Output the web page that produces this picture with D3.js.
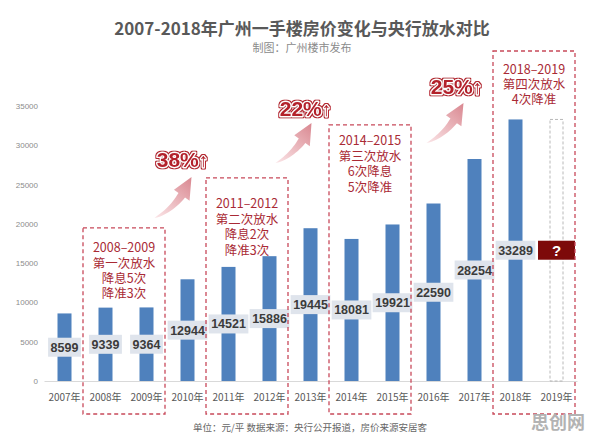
<!DOCTYPE html>
<html>
<head>
<meta charset="utf-8">
<script src="https://cdn.jsdelivr.net/npm/d3@7"></script>
<style>
  body { margin: 0; background: #fff; }
  svg { display: block; }
</style>
</head>
<body>
<svg id="chart" width="596" height="433"></svg>
<script>
// data
var years = ['2007年', '2008年', '2009年', '2010年', '2011年', '2012年', '2013年',
             '2014年', '2015年', '2016年', '2017年', '2018年', '2019年'];
var prices = [8599, 9339, 9364, 12944, 14521, 15886, 19445, 18081, 19921, 22590, 28254, 33289, null];
var pendingYear = '2019年';
var pendingHeight = 33289;   // dashed placeholder is as tall as 2018
var yTicks = [0, 5000, 10000, 15000, 20000, 25000, 30000, 35000];

var periodFrom = ['2008年', '2011年', '2014年', '2018年'];
var periodTo = ['2009年', '2012年', '2015年', '2019年'];
var periodNotes = [
    ['2008–2009', '第一次放水', '降息5次', '降准3次'],
    ['2011–2012', '第二次放水', '降息2次', '降准3次'],
    ['2014–2015', '第三次放水', '6次降息', '5次降准'],
    ['2018–2019', '第四次放水', '4次降准']
];
var growthLabels = ['38%', '22%', '25%'];

var titleText = '2007-2018年广州一手楼房价变化与央行放水对比';
var subtitleText = '制图：广州楼市发布';
var footText = '单位：元/平 数据来源：央行公开报道，房价来源安居客';

(function(){
    'use strict';

    var cjk = '"Noto Sans CJK SC", "Noto Sans", sans-serif',
        num = '"Liberation Sans", Arial, sans-serif',
        red = '#a92a35',
        svg = d3.select('#chart');

    var x = d3.scaleBand().domain(years).range([44, 577]),
        y = d3.scaleLinear().domain([0, 35000]).range([381, 106]),
        barW = 14;

    function xc( d ){ return x(d) + x.bandwidth() / 2; }

    svg.append('rect').attr('width', 596).attr('height', 433).attr('fill', '#fff');

    var defs = svg.append('defs');

    // thin red rim drawn behind the white-stroked lettering
    var rim = defs.append('filter').attr('id', 'rim')
        .attr('x', '-10%').attr('y', '-30%').attr('width', '120%').attr('height', '160%');
    rim.append('feMorphology').attr('in', 'SourceAlpha').attr('operator', 'dilate').attr('radius', 1.1).attr('result', 'outer');
    rim.append('feFlood').attr('flood-color', '#b3202c').attr('result', 'redc');
    rim.append('feComposite').attr('in', 'redc').attr('in2', 'outer').attr('operator', 'in').attr('result', 'outerRed');
    var merge = rim.append('feMerge');
    merge.append('feMergeNode').attr('in', 'outerRed');
    merge.append('feMergeNode').attr('in', 'SourceGraphic');

    // titles
    svg.append('text')
        .attr('x', 302).attr('y', 35)
        .attr('text-anchor', 'middle')
        .style('font-family', cjk).style('font-weight', 'bold')
        .style('font-size', '17px').style('fill', '#595959')
        .text(titleText);
    svg.append('text')
        .attr('x', 302).attr('y', 52)
        .attr('text-anchor', 'middle')
        .style('font-family', cjk).style('font-size', '11px').style('fill', '#8a8a8a')
        .text(subtitleText);

    // axes
    var yAxis = svg.append('g')
        .attr('transform', 'translate(44,0)')
        .call(d3.axisLeft(y).tickValues(yTicks).tickFormat(d3.format('d')).tickSize(0).tickPadding(6));
    yAxis.select('.domain').remove();
    yAxis.selectAll('text')
        .style('font-family', num).style('font-size', '8px').style('fill', '#8c8c8c');

    var xAxis = svg.append('g')
        .attr('transform', 'translate(0,' + y(0) + ')')
        .call(d3.axisBottom(x).tickSize(0).tickPadding(13));
    xAxis.select('.domain').attr('stroke', '#d9d9d9');
    xAxis.selectAll('text')
        .style('font-family', cjk).style('font-size', '10px').style('fill', '#595959');

    // bars
    var rows = years.map(function( d, i ){ return { year: d, value: prices[i] }; }),
        known = rows.filter(function( r ){ return r.value !== null; });

    svg.append('g').selectAll('rect')
        .data(known)
        .join('rect')
        .attr('x', function( r ){ return xc(r.year) - barW / 2; })
        .attr('y', function( r ){ return y(r.value); })
        .attr('width', barW)
        .attr('height', function( r ){ return y(0) - y(r.value); })
        .attr('fill', '#4f81bd');

    // 2019 placeholder
    svg.append('rect')
        .attr('x', xc(pendingYear) - barW / 2 + 0.5)
        .attr('y', y(pendingHeight))
        .attr('width', barW - 1)
        .attr('height', y(0) - y(pendingHeight))
        .attr('fill', 'none')
        .attr('stroke', '#a6a6a6')
        .attr('stroke-width', 0.8)
        .attr('stroke-dasharray', '3,2');

    // value labels, sitting at half the bar height
    var lab = svg.append('g').selectAll('g')
        .data(known)
        .join('g')
        .attr('transform', function( r ){ return 'translate(' + xc(r.year) + ',' + y(r.value / 2) + ')'; });
    lab.append('rect').attr('fill', '#dfe4ec');
    lab.append('text')
        .attr('text-anchor', 'middle')
        .attr('dy', '0.36em')
        .style('font-family', num).style('font-weight', 'bold')
        .style('font-size', '12.5px').style('fill', '#3b3b3b')
        .text(function( r ){ return r.value; })
        .each(function(){
            var w = this.getComputedTextLength() + 5;
            d3.select(this.previousSibling)
                .attr('x', -w / 2).attr('y', -9.5)
                .attr('width', w).attr('height', 19);
        });

    var q = svg.append('g')
        .attr('transform', 'translate(' + xc(pendingYear) + ',' + y(pendingHeight / 2) + ')');
    q.append('rect')
        .attr('x', -18.5).attr('y', -9.5).attr('width', 37).attr('height', 19)
        .attr('fill', '#7d0a0a');
    q.append('text')
        .attr('text-anchor', 'middle').attr('dy', '0.36em')
        .style('font-family', num).style('font-weight', 'bold')
        .style('font-size', '15px').style('fill', '#fff')
        .text('?');

    // dashed period boxes
    var boxTop = [19500, 25850, 32600, 42000],
        firstLine = [20, 26, 16, 18],
        boxBottom = y(0) + 33;

    periodFrom.forEach(function( from, i ){
        var x0 = x(from) - 2,
            x1 = x(periodTo[i]) + x.bandwidth() - 2,
            top = y(boxTop[i]);

        svg.append('rect')
            .attr('x', x0).attr('y', top)
            .attr('width', x1 - x0).attr('height', boxBottom - top)
            .attr('fill', 'none')
            .attr('stroke', '#c8495a')
            .attr('stroke-width', 1.3)
            .attr('stroke-dasharray', '4,3');

        svg.append('text')
            .attr('x', (x0 + x1) / 2)
            .attr('y', top + firstLine[i])
            .attr('text-anchor', 'middle')
            .style('font-family', cjk).style('font-size', '12.5px').style('fill', red)
            .selectAll('tspan')
            .data(periodNotes[i])
            .join('tspan')
            .attr('x', (x0 + x1) / 2)
            .attr('y', function( d, k ){ return top + firstLine[i] + k * 15.4; })
            .attr('dy', '0.36em')
            .text(function( d ){ return d; });
    });

    // growth arrows
    var arrowLayout = [
        { tail: [xc('2009年') + 8, y(20745)], head: [xc('2010年') + 4, y(25964)], label: [xc('2010年') - 5, y(28254)] },
        { tail: [xc('2012年') + 6, y(27745)], head: [xc('2013年') + 1, y(32836)], label: [xc('2013年') - 5, y(34745)] },
        { tail: [xc('2016年') - 7, y(30291)], head: [xc('2017年') - 11, y(35382)], label: [xc('2017年') - 18, y(37545)] }
    ];

    function swoosh( p0, p2 ){
        var dx = p2[0] - p0[0], dy = p2[1] - p0[1],
            L = Math.hypot(dx, dy),
            u = [dx / L, dy / L], n = [-u[1], u[0]],
            p1 = [p0[0] + u[0] * L * 0.45 + n[0] * L * 0.2, p0[1] + u[1] * L * 0.45 + n[1] * L * 0.2],
            tn = 0.66, left = [], right = [], i, t, p, g, w;

        function pt( t ){
            var a = (1 - t) * (1 - t), b = 2 * (1 - t) * t, c = t * t;
            return [a * p0[0] + b * p1[0] + c * p2[0], a * p0[1] + b * p1[1] + c * p2[1]];
        }
        function tan( t ){
            var tx = 2 * (1 - t) * (p1[0] - p0[0]) + 2 * t * (p2[0] - p1[0]),
                ty = 2 * (1 - t) * (p1[1] - p0[1]) + 2 * t * (p2[1] - p1[1]),
                l = Math.hypot(tx, ty);
            return [tx / l, ty / l];
        }

        for ( i = 0; i <= 14; i++ ){
            t = tn * i / 14; p = pt(t); g = tan(t); w = 4 * Math.pow(i / 14, 0.7);
            left.push([p[0] + g[1] * w, p[1] - g[0] * w]);
            right.push([p[0] - g[1] * w, p[1] + g[0] * w]);
        }
        p = pt(tn); g = tan(tn);
        var pts = left.concat(
            [[p[0] + g[1] * 9.5, p[1] - g[0] * 9.5], p2, [p[0] - g[1] * 9.5, p[1] + g[0] * 9.5]],
            right.reverse()
        );
        return d3.line()(pts) + 'Z';
    }

    arrowLayout.forEach(function( a, i ){
        var grad = defs.append('linearGradient')
            .attr('id', 'ag' + i)
            .attr('gradientUnits', 'userSpaceOnUse')
            .attr('x1', a.tail[0]).attr('y1', a.tail[1])
            .attr('x2', a.head[0]).attr('y2', a.head[1]);
        grad.append('stop').attr('offset', 0).attr('stop-color', '#fbe6e8');
        grad.append('stop').attr('offset', 1).attr('stop-color', '#d98790');

        svg.append('path')
            .attr('d', swoosh(a.tail, a.head))
            .attr('fill', 'url(#ag' + i + ')');

        var t = svg.append('text')
            .attr('x', a.label[0]).attr('y', a.label[1] + 8)
            .attr('text-anchor', 'middle')
            .attr('filter', 'url(#rim)')
            .style('font-family', num).style('font-weight', 'bold')
            .style('font-size', '21px')
            .style('fill', '#b3202c')
            .style('stroke', '#fff')
            .style('stroke-width', '2.4px')
            .style('stroke-linejoin', 'round')
            .style('paint-order', 'stroke');
        t.append('tspan').text(growthLabels[i]);
        t.append('tspan').style('font-size', '19px').text('↑');
    });

    // footer + watermark
    svg.append('text')
        .attr('x', 310).attr('y', 431)
        .attr('text-anchor', 'middle')
        .style('font-family', cjk).style('font-size', '9.5px').style('fill', '#666')
        .text(footText);
    svg.append('text')
        .attr('x', 531).attr('y', 429)
        .style('font-family', cjk).style('font-weight', 'bold')
        .style('font-size', '18px').style('fill', '#b3b3b3')
        .text('思创网');
})();
</script>
</body>
</html>
